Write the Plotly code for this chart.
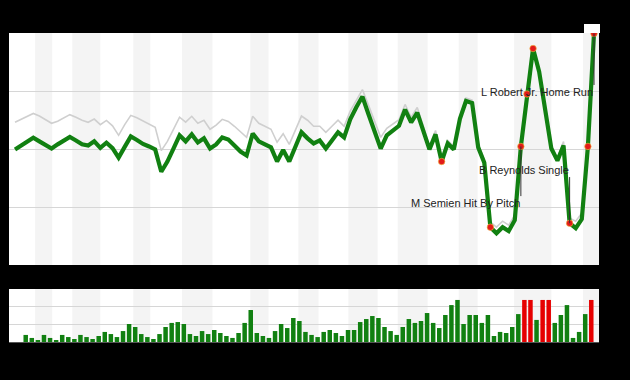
import plotly.graph_objects as go

# Win probability (%) per play, home team (green) and secondary line (gray)
win_prob = [49.8, 51.5, 53.3, 54.9, 53.3, 51.7, 50.2, 52.0, 53.7, 55.2,
            53.7, 52.0, 51.5, 53.3, 50.5, 52.7, 50.4, 46.3, 50.9, 55.4,
            53.9, 52.2, 51.1, 49.8, 40.2, 44.6, 50.2, 55.9, 53.3, 56.3,
            52.8, 54.6, 50.2, 52.0, 55.0, 54.1, 51.5, 48.9, 47.2, 56.7,
            53.3, 52.0, 50.7, 44.6, 49.6, 44.6, 51.1, 57.2, 54.6, 52.4,
            53.7, 50.2, 53.7, 57.2, 55.0, 62.8, 68.0, 72.6, 65.0, 57.6,
            50.2, 55.9, 58.0, 60.0, 67.0, 61.5, 65.7, 57.8, 49.8, 56.3,
            44.6, 52.4, 49.8, 63.0, 70.7, 69.8, 50.7, 44.1, 16.3, 13.7,
            16.3, 14.6, 19.3, 51.1, 73.7, 93.3, 83.3, 66.3, 50.2, 45.0,
            51.5, 18.0, 15.9, 19.8, 51.1, 99.8]

gray_prob = [61.5, 62.8, 64.2, 65.3, 64.2, 62.6, 61.1, 62.0, 63.3, 64.8,
             63.7, 62.4, 61.5, 62.9, 60.5, 62.3, 60.0, 55.9, 60.5, 64.5,
             63.5, 62.2, 60.7, 59.4, 49.3, 53.3, 58.5, 63.7, 61.6, 64.1,
             61.1, 62.4, 58.5, 60.3, 62.8, 61.9, 59.8, 57.2, 55.0, 64.1,
             61.1, 59.8, 58.5, 52.9, 56.6, 52.0, 58.1, 64.2, 62.4, 59.8,
             59.8, 57.2, 59.8, 62.4, 59.8, 66.3, 71.0, 75.6, 68.9, 61.9,
             55.0, 58.9, 60.6, 62.6, 69.2, 63.7, 67.9, 59.5, 51.5, 58.0,
             45.9, 53.7, 51.1, 64.3, 72.0, 71.1, 52.0, 45.4, 18.5, 16.3,
             18.9, 17.2, 21.5, 51.5, 74.1, 93.7, 84.2, 67.6, 51.5, 46.3,
             53.2, 20.2, 18.9, 22.4, 51.5, 99.8]

# Key plays (red markers)
key_plays = [70, 78, 83, 84, 85, 91, 94, 95]

# Leverage index per play (bottom panel)
leverage = [0.40, 0.23, 0.11, 0.40, 0.23, 0.11, 0.40, 0.28, 0.17, 0.40,
            0.28, 0.17, 0.34, 0.57, 0.45, 0.28, 0.62, 1.02, 0.85, 0.45,
            0.28, 0.17, 0.45, 0.85, 1.08, 1.13, 1.02, 0.45, 0.34, 0.62,
            0.45, 0.68, 0.51, 0.34, 0.23, 0.51, 1.08, 1.81, 0.51, 0.34,
            0.23, 0.62, 1.02, 0.79, 1.36, 1.19, 0.57, 0.40, 0.28, 0.57,
            0.68, 0.51, 0.34, 0.68, 0.68, 1.13, 1.30, 1.47, 1.36, 0.85,
            0.62, 0.40, 0.85, 1.30, 1.08, 1.19, 1.64, 1.08, 0.79, 1.53,
            2.09, 2.38, 1.02, 1.53, 1.53, 1.08, 1.53, 0.34, 0.57, 0.51,
            0.85, 1.58, 2.38, 2.38, 1.25, 2.38, 2.38, 1.08, 1.53, 2.09,
            0.23, 0.57, 1.58, 2.38]
red_bars = [82, 83, 85, 86, 93]

# Shaded half-innings (play index units)
band_starts = [3.3, 9.4, 19.4, 27.4, 38.6, 46.5, 54.7, 62.8, 72.8, 81.9, 93.2]
band_ends = [6.1, 14.0, 22.2, 32.4, 41.6, 49.8, 59.5, 67.7, 75.9, 88.0, 96.0]

# Labels: (play index, label anchor value, yanchor, text)
labels = [(95, 77.6, "top", "L Robert Jr. Home Run"),
          (91, 37.9, "bottom", "B Reynolds Single"),
          (83, 29.7, "top", "M Semien Hit By Pitch")]

plays = list(range(len(win_prob)))
bar_x = list(range(len(leverage)))
bar_colors = ["#e60000" if i in red_bars else "#118011" for i in bar_x]

fig = go.Figure()
fig.add_trace(go.Scatter(x=plays, y=gray_prob, mode="lines",
                         line=dict(color="#cfcfcf", width=1.6), hoverinfo="skip",
                         xaxis="x", yaxis="y"))
fig.add_trace(go.Scatter(x=plays, y=win_prob, mode="lines",
                         line=dict(color="#118011", width=4.2), hoverinfo="skip",
                         xaxis="x", yaxis="y"))
fig.add_trace(go.Scatter(x=key_plays, y=[win_prob[i] for i in key_plays], mode="markers",
                         marker=dict(color="#e31a1a", size=6.5,
                                     line=dict(color="#f0c040", width=0.6)),
                         cliponaxis=False, hoverinfo="skip", xaxis="x", yaxis="y"))
fig.add_trace(go.Bar(x=bar_x, y=leverage, marker=dict(color=bar_colors, line=dict(width=0)),
                     hoverinfo="skip", xaxis="x2", yaxis="y2"))

xdom = [9 / 630, 599 / 630]
shapes = []
for s, e in zip(band_starts, band_ends):
    for yr in ["y domain", "y2 domain"]:
        shapes.append(dict(type="rect", xref="x", yref=yr, x0=s, x1=e, y0=0, y1=1,
                           fillcolor="#f4f4f4", line=dict(width=0), layer="below"))
shapes.append(dict(type="rect", xref="paper", yref="paper", x0=584 / 630, x1=600 / 630,
                   y0=1 - 33 / 380, y1=1 - 24 / 380, fillcolor="white", line=dict(width=0)))

annotations = []
for idx, ay, yanc, txt in labels:
    annotations.append(dict(x=idx, y=win_prob[idx], xref="x", yref="y",
                            ax=idx, ay=ay, axref="x", ayref="y",
                            text=txt, showarrow=True, arrowhead=0, arrowwidth=1,
                            arrowcolor="#333333", standoff=0,
                            xanchor="right", yanchor=yanc, borderpad=0,
                            font=dict(family="Liberation Sans, Arial, sans-serif",
                                      size=11, color="#222222")))

fig.update_layout(
    width=630, height=380, margin=dict(l=0, r=0, t=0, b=0),
    paper_bgcolor="black", plot_bgcolor="white", showlegend=False,
    bargap=0.26, shapes=shapes, annotations=annotations,
    xaxis=dict(domain=xdom, range=[-0.986, 95.82], showgrid=False, zeroline=False,
               showticklabels=False, ticks="", fixedrange=True),
    yaxis=dict(domain=[1 - 265 / 380, 1 - 33 / 380], range=[0, 100],
               tickvals=[25, 50, 75, 100], gridcolor="#d6d6d6", gridwidth=1,
               showticklabels=False, zeroline=False, ticks=""),
    xaxis2=dict(domain=xdom, anchor="y2", range=[-2.75, 94.27], showgrid=False,
                zeroline=False, showticklabels=False, ticks="",
                showline=True, linecolor="#555555", linewidth=1),
    yaxis2=dict(domain=[1 - 342 / 380, 1 - 289 / 380], range=[0, 3], anchor="x2",
                tickvals=[1, 2, 3], gridcolor="#d6d6d6", gridwidth=1,
                showticklabels=False, zeroline=False, ticks=""),
)

fig.write_html("out.html")
